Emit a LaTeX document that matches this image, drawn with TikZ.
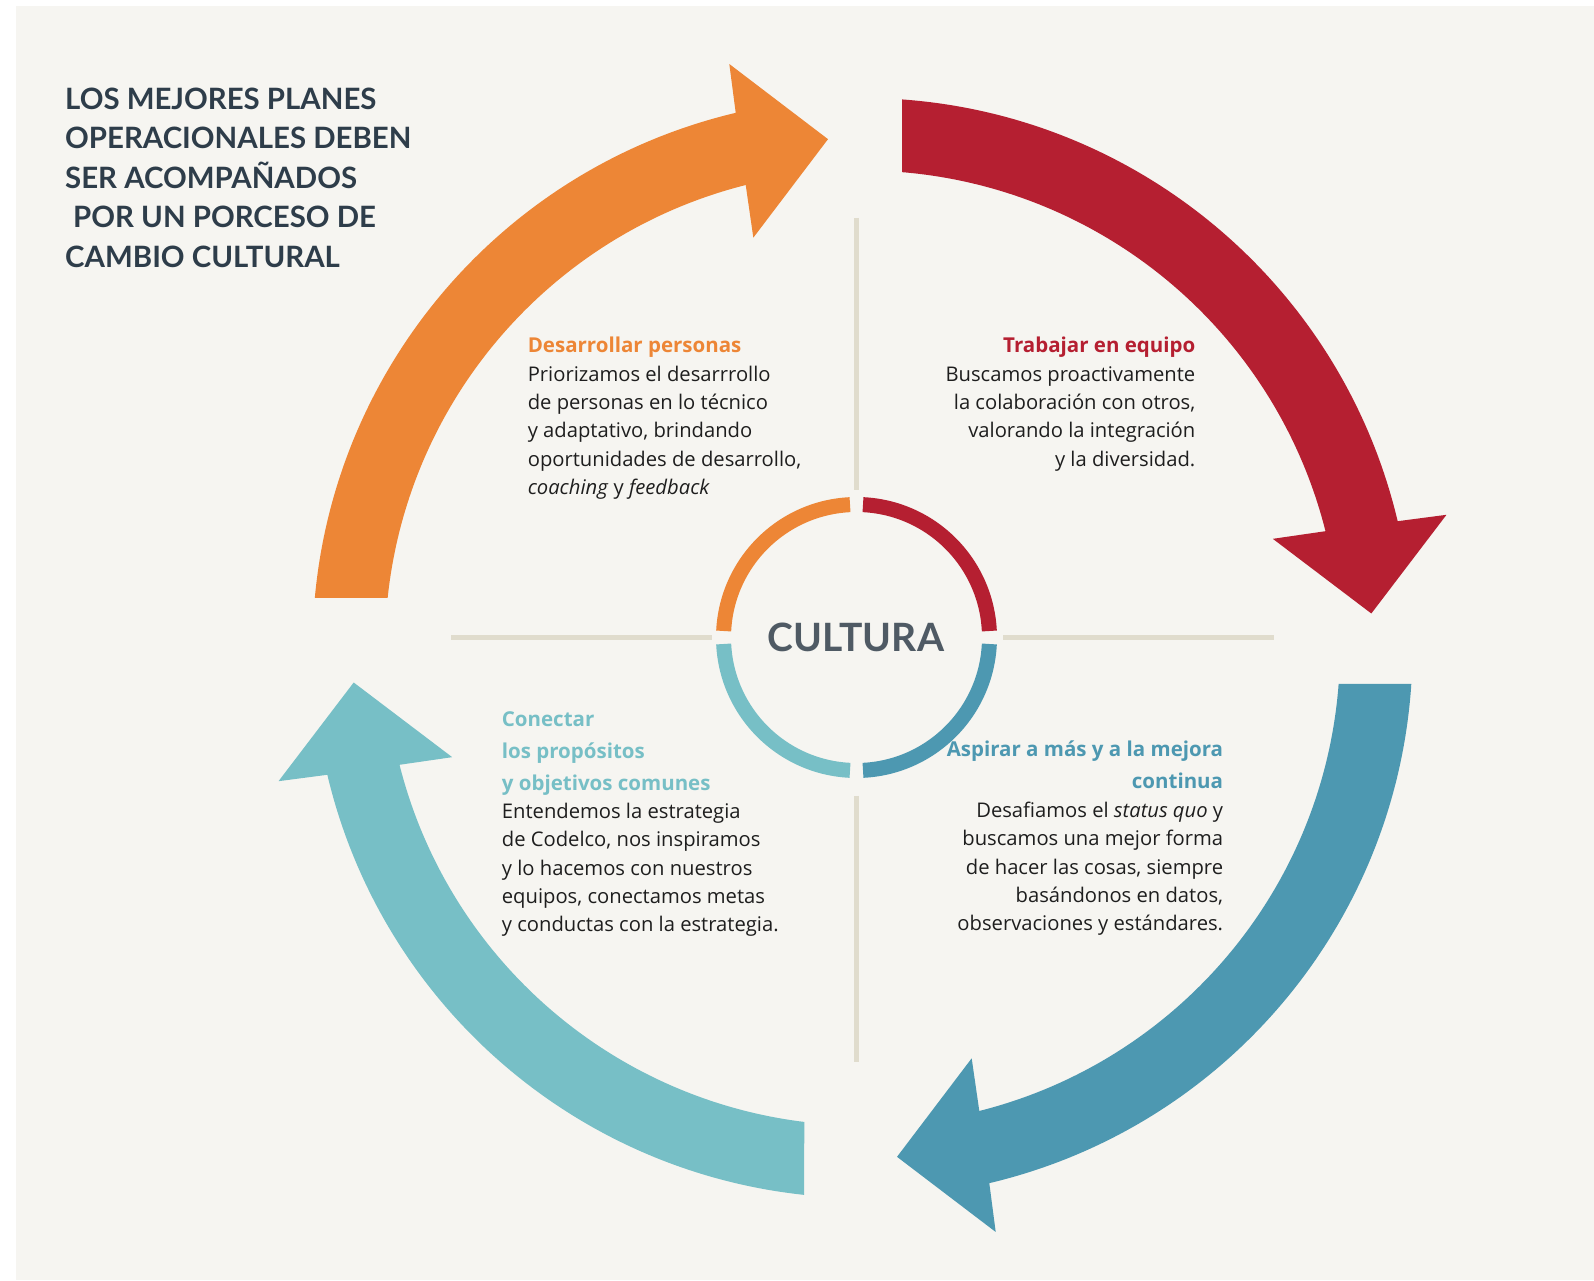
\documentclass[tikz,border=0pt]{standalone}
\usepackage{fontspec}
\setmainfont{Lato}
\newfontfamily\osans{Open Sans}
\definecolor{bgc}{HTML}{F6F5F1}
\definecolor{corange}{HTML}{ED8636}
\definecolor{cred}{HTML}{B51F31}
\definecolor{cteal}{HTML}{4D98B1}
\definecolor{clight}{HTML}{77BFC6}
\definecolor{ctitle}{HTML}{2E3D4A}
\definecolor{ccult}{HTML}{4F5A64}
\definecolor{bodyc}{HTML}{1E1E1E}
\definecolor{linec}{HTML}{E0DCCD}
\newcommand\cularrow[4]{%
  \begin{scope}[shift={(862.5,632)},rotate=#2]
    \fill[#1] (#3:550pt) arc[start angle=#3, end angle=103.33, radius=550pt]
      -- (102.85:599pt) -- (93.88:510pt) -- (104.90:424.6pt) -- (104.16:477.5pt)
      arc[start angle=104.16, end angle=#4, radius=477.5pt] -- cycle;
  \end{scope}}
\newcommand\bst{\rule{0pt}{20pt}}
\newcommand\hst{\rule{0pt}{22pt}}
\tikzset{
  ringseg/.style={line width=15pt, line cap=butt},
  crossline/.style={draw=linec, line width=5pt},
  bodytxt/.style={inner sep=0pt, text=bodyc, font=\osans\fontsize{20.2}{28.35}\selectfont},
  headtxt/.style={inner sep=0pt, font=\osans\fontsize{20.5}{31.7}\selectfont\bfseries},
}
\begin{document}
\begin{tikzpicture}[x=1pt,y=1pt]
\useasboundingbox (0,0) rectangle (1594,1280);
\fill[white] (0,0) rectangle (1594,1280);
\fill[bgc] (16,0) rectangle (1594,1274);

% cross lines
\coordinate (vt1) at (856.5,1062); \coordinate (vt2) at (856.5,790);
\coordinate (vb1) at (856.5,484);  \coordinate (vb2) at (856.5,218);
\coordinate (hl1) at (451,642.5);  \coordinate (hl2) at (712,642.5);
\coordinate (hr1) at (1003,642.5); \coordinate (hr2) at (1274,642.5);
\draw[crossline] (vt1) -- (vt2);
\draw[crossline] (vb1) -- (vb2);
\draw[crossline] (hl1) -- (hl2);
\draw[crossline] (hr1) -- (hr2);

% big arrows
\cularrow{corange}{0}{174.76}{173.96}
\cularrow{cred}{-90}{175.88}{175.25}
\cularrow{cteal}{-180}{176.25}{175.68}
\cularrow{clight}{90}{173.9}{173.0}

% ring
\begin{scope}[shift={(856.5,642.5)}]
  \draw[ringseg, corange] (92.8:133pt) arc[start angle=92.8, end angle=177.2, radius=133pt];
  \draw[ringseg, cred] (2.8:133pt) arc[start angle=2.8, end angle=87.2, radius=133pt];
  \draw[ringseg, cteal] (-87.2:133pt) arc[start angle=-87.2, end angle=-2.8, radius=133pt];
  \draw[ringseg, clight] (182.8:133pt) arc[start angle=182.8, end angle=267.2, radius=133pt];
\end{scope}
\node[font=\fontsize{39}{39}\selectfont\bfseries, text=ccult, inner sep=0pt] (cultura) at (856,643) {CULTURA};

% title
\node[anchor=north west, align=left, inner sep=0pt, text=ctitle,
      font=\fontsize{29.4}{39.6}\selectfont\bfseries] (title) at (65,1201)
  {\rule{0pt}{30pt}LOS MEJORES PLANES\\OPERACIONALES DEBEN\\SER ACOMPAÑADOS\\\hspace*{8pt}POR UN PORCESO DE\\CAMBIO CULTURAL};

% orange block
\node[headtxt, text=corange, anchor=north west, align=left] (h1) at (527.6,949.7)
  {\hst Desarrollar personas};
\node[bodytxt, anchor=north west, align=left] (b1) at (527.6,919)
  {\bst Priorizamos el desarrrollo\\de personas en lo técnico\\y adaptativo, brindando\\oportunidades de desarrollo,\\\textit{coaching} y \textit{feedback}};

% red block
\node[headtxt, text=cred, anchor=north east, align=right] (h2) at (1195.5,949.7)
  {\hst Trabajar en equipo};
\node[bodytxt, anchor=north east, align=right] (b2) at (1195.5,919)
  {\bst Buscamos proactivamente\\la colaboración con otros,\\valorando la integración\\y la diversidad.};

% light blue block
\node[headtxt, text=clight, anchor=north west, align=left] (h3) at (501.7,575.3)
  {\hst Conectar\\los propósitos\\y objetivos comunes};
\node[bodytxt, anchor=north west, align=left] (b3) at (501.7,481.7)
  {\bst Entendemos la estrategia\\de Codelco, nos inspiramos\\y lo hacemos con nuestros\\equipos, conectamos metas\\y conductas con la estrategia.};

% teal block
\node[headtxt, text=cteal, anchor=north east, align=right] (h4) at (1223.3,545.3)
  {\hst Aspirar a más y a la mejora\\continua};
\node[bodytxt, anchor=north east, align=right] (b4) at (1223.3,482.7)
  {\bst Desafiamos el \textit{status quo} y\\buscamos una mejor forma\\de hacer las cosas, siempre\\basándonos en datos,\\observaciones y estándares.};
\end{tikzpicture}
\end{document}
